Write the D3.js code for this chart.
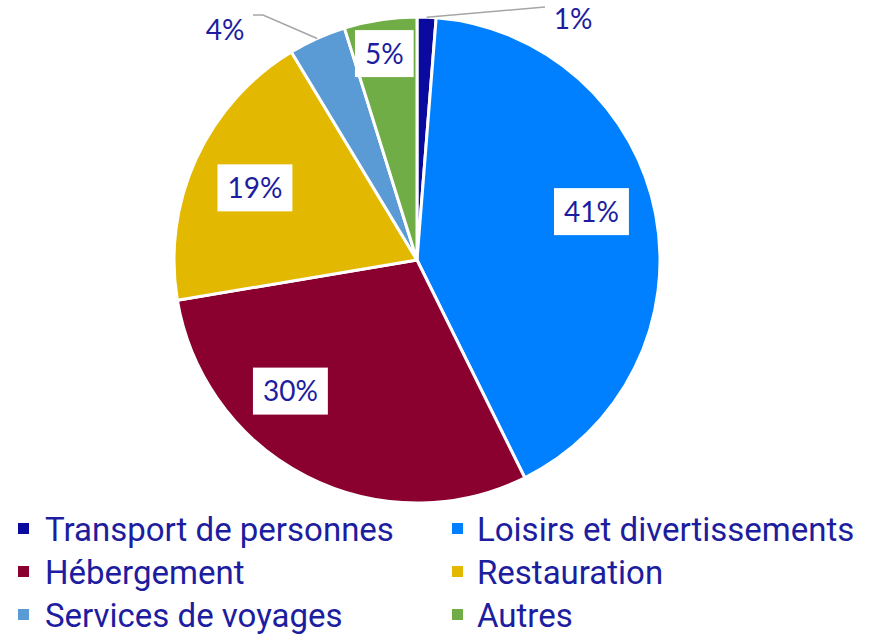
<!DOCTYPE html>
<html>
<head>
<meta charset="utf-8">
<script src="https://cdn.jsdelivr.net/npm/d3@7"></script>
<style>
  html, body { margin: 0; padding: 0; background: #fff; }
  svg { display: block; }
</style>
</head>
<body>
<svg id="chart"></svg>
<script>
// data (percent of total)
const categories = ["Transport de personnes", "Loisirs et divertissements", "Hébergement",
    "Restauration", "Services de voyages", "Autres"];
const values = [1.25, 41.2, 29.5, 18.9, 3.8, 4.8];
const colours = ["#0a0a9e", "#0080ff", "#8a002e", "#e2b800", "#5b9bd5", "#70ad47"];

// label placement inside the pie: angle (deg, clockwise from top) and radius fraction
const labelAt = [
    null,
    {angle: 74.5, r: 0.745},
    {angle: 224, r: 0.75},
    {angle: 294, r: 0.73},
    null,
    {angle: 351, r: 0.86}
];

// the two thin slices get their label outside, with a leader line
const leaders = [
    {i: 0, text: [156, -241], bend: [128, -253]},
    {i: 4, text: [-192, -230], bend: [-154, -245], end: [-164, -245]}
];

const width = 877, height = 635;
const cx = 417, cy = 260, radius = 243;
const textColour = "#1d1d9f";

const svg = d3.select("#chart")
    .attr("width", width)
    .attr("height", height);

const pie = d3.pie().sort(null).value(d => d);
const arcs = pie(values);

const arc = d3.arc().innerRadius(0).outerRadius(radius);

const g = svg.append("g").attr("transform", `translate(${cx},${cy})`);

g.selectAll("path.slice")
    .data(arcs)
    .enter()
    .append("path")
    .attr("class", "slice")
    .attr("d", arc)
    .attr("fill", (d, i) => colours[i])
    .attr("stroke", "#fff")
    .attr("stroke-width", 3)
    .attr("stroke-linejoin", "round");

function polar(angleDeg, r) {
    const a = angleDeg * Math.PI / 180;
    return [Math.sin(a) * r, -Math.cos(a) * r];
}

leaders.forEach(l => {
    const d = arcs[l.i];
    const mid = (d.startAngle + d.endAngle) / 2 * 180 / Math.PI;
    const [ex, ey] = polar(mid, radius);
    const pts = [[ex, ey], l.bend];
    if (l.end) pts.push(l.end);
    g.append("polyline")
        .attr("points", pts.map(p => p.join(",")).join(" "))
        .attr("fill", "none")
        .attr("stroke", "#a6a6a6")
        .attr("stroke-width", 1.5);
});

const fontSize = 28;

arcs.forEach((d, i) => {
    const pct = Math.round(values[i]) + "%";
    const lead = leaders.find(l => l.i === i);
    let x, y;
    if (lead) {
        [x, y] = lead.text;
    } else {
        [x, y] = polar(labelAt[i].angle, labelAt[i].r * radius);
    }
    const lab = g.append("g").attr("transform", `translate(${x},${y})`);
    const t = lab.append("text")
        .attr("text-anchor", "middle")
        .attr("dy", "0.36em")
        .attr("font-family", "Lato, 'Open Sans', sans-serif")
        .attr("font-size", fontSize)
        .attr("fill", textColour)
        .text(pct);
    if (!lead) {
        const bb = t.node().getBBox();
        const padX = 10, h = 47;
        lab.insert("rect", "text")
            .attr("x", -bb.width / 2 - padX)
            .attr("y", -h / 2)
            .attr("width", bb.width + padX * 2)
            .attr("height", h)
            .attr("fill", "#fff");
    }
});

// legend, two columns
const legendCols = [18, 452];
const legendRows = [541, 584, 627];

const legend = svg.append("g").attr("class", "legend");

categories.forEach((c, i) => {
    const lx = legendCols[i % 2];
    const ly = legendRows[Math.floor(i / 2)];
    const item = legend.append("g").attr("transform", `translate(${lx},${ly})`);
    item.append("rect")
        .attr("x", 0)
        .attr("y", -18)
        .attr("width", 11)
        .attr("height", 11)
        .attr("fill", colours[i]);
    item.append("text")
        .attr("x", i % 2 ? 25 : 27)
        .attr("y", 0)
        .attr("font-family", "Roboto, sans-serif")
        .attr("font-size", 33)
        .attr("fill", textColour)
        .text(c);
});
</script>
</body>
</html>
